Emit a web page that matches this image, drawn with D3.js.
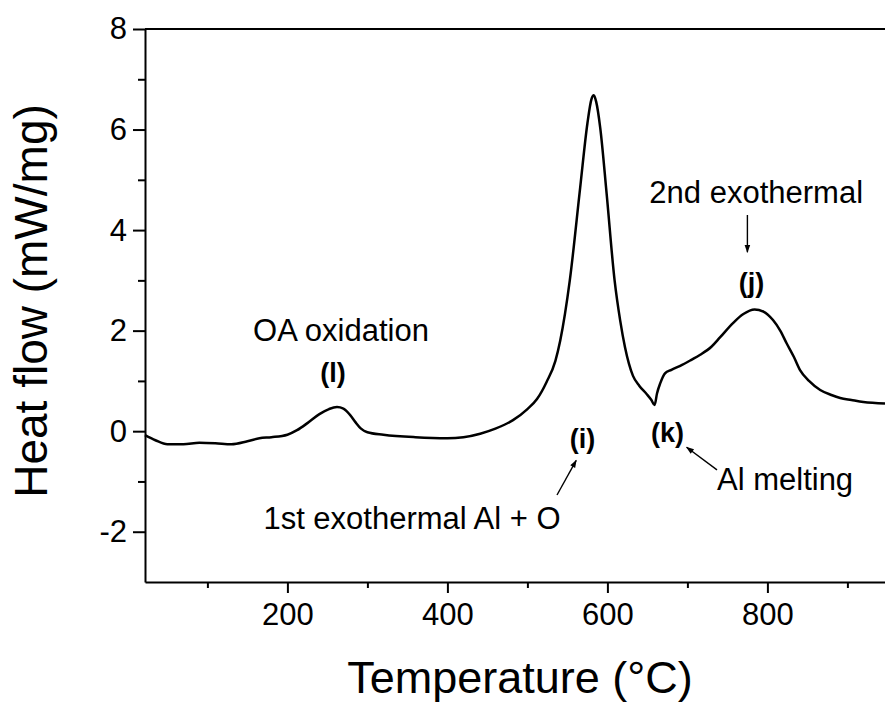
<!DOCTYPE html>
<html>
<head>
<meta charset="utf-8">
<script src="https://cdn.jsdelivr.net/npm/d3@7"></script>
<style>
  html, body { margin: 0; padding: 0; background: #fff; }
  svg { display: block; font-family: "Liberation Sans", Arial, sans-serif; }
  .axis path, .axis line { stroke: #000; stroke-width: 2; }
  .axis text { font-size: 31px; fill: #000; }
  .ann { font-size: 31px; fill: #000; }
  .lab { font-size: 27px; font-weight: bold; fill: #000; }
</style>
</head>
<body>
<svg id="chart" width="885" height="704"></svg>
<script>
/* DSC trace: heat flow against temperature, with the four marked events. */
const temps = [22, 35, 50, 70, 90, 110, 130, 150, 165, 180, 200, 212, 225, 240, 252, 262, 270, 278, 285, 292,
  300, 320, 360, 400, 420, 441, 460, 482, 500, 512, 524, 535, 541, 553, 566, 575, 580, 583, 586, 591,
  599, 609, 616, 622, 632, 640, 649, 655, 659, 662, 666, 672, 680, 691, 705, 716, 730, 741, 757, 770,
  784, 795, 807, 816, 824, 833, 841, 852, 866, 880, 891, 905, 920, 947];
const heatFlow = [-0.08, -0.18, -0.26, -0.26, -0.23, -0.24, -0.26, -0.2, -0.14, -0.12, -0.07, 0.02, 0.16, 0.34, 0.44, 0.48, 0.45, 0.33, 0.18, 0.05,
  -0.02, -0.07, -0.12, -0.14, -0.12, -0.05, 0.05, 0.22, 0.44, 0.64, 0.98, 1.4, 1.8, 3.0, 4.85, 6.12, 6.6, 6.68, 6.55, 6.04,
  4.73, 3.0, 2.2, 1.67, 1.1, 0.9, 0.74, 0.62, 0.52, 0.75, 0.95, 1.15, 1.22, 1.3, 1.42, 1.52, 1.68, 1.87, 2.15, 2.33,
  2.42, 2.38, 2.21, 2.0, 1.75, 1.48, 1.21, 1.0, 0.82, 0.72, 0.66, 0.62, 0.58, 0.55];

const xMajor = [200, 400, 600, 800];
const xMinor = [100, 300, 500, 700, 900];
const yMajor = [-2, 0, 2, 4, 6, 8];
const yMinor = [-1, 1, 3, 5, 7];

// annotations: [temperature, heat flow] anchors
const labels = [
  { t: "(l)", at: [257, 0.97] },
  { t: "(i)", at: [569, -0.33] },
  { t: "(k)", at: [675, -0.22] },
  { t: "(j)", at: [780, 2.76] },
];
const notes = [
  { t: "OA oxidation", at: [267, 1.8], anchor: "middle" },
  { t: "1st exothermal Al + O", at: [170, -1.94], anchor: "start" },
  { t: "Al melting", at: [737, -1.17], anchor: "start" },
  { t: "2nd exothermal", at: [786, 4.54], anchor: "middle" },
];
const arrows = [
  [[537, -1.27], [561, -0.58]],
  [[737, -0.77], [699, -0.32]],
  [[775, 4.3], [775, 3.56]],
];

const W = 885, H = 704;
const M = { t: 29, r: 0, b: 122, l: 145 };
const svg = d3.select("#chart");

const x = d3.scaleLinear().domain([22, 947]).range([M.l, W - M.r]);
const y = d3.scaleLinear().domain([-3, 8]).range([H - M.b, M.t]);

const defs = svg.append("defs");
defs.append("marker").attr("id", "ah").attr("viewBox", "0 0 10 10")
  .attr("refX", 9).attr("refY", 5).attr("markerWidth", 10).attr("markerHeight", 8)
  .attr("markerUnits", "userSpaceOnUse").attr("orient", "auto")
  .append("path").attr("d", "M0,1.5 L10,5 L0,8.5 Z").attr("fill", "#000");

// frame top
svg.append("line").attr("x1", M.l).attr("x2", W).attr("y1", y(8)).attr("y2", y(8))
  .attr("stroke", "#000").attr("stroke-width", 2);

const fmt = d => String(d);
const gx = svg.append("g").attr("class", "axis").attr("transform", `translate(0,${y(-3)})`);
gx.call(d3.axisBottom(x).tickValues(xMajor).tickFormat(fmt).tickSize(11).tickPadding(10).tickSizeOuter(0));
gx.append("g").call(d3.axisBottom(x).tickValues(xMinor).tickSize(6).tickFormat("").tickSizeOuter(0))
  .select(".domain").remove();

const gy = svg.append("g").attr("class", "axis").attr("transform", `translate(${M.l},0)`);
gy.call(d3.axisLeft(y).tickValues(yMajor).tickFormat(fmt).tickSize(12).tickPadding(6).tickSizeOuter(0));
gy.append("g").call(d3.axisLeft(y).tickValues(yMinor).tickSize(7).tickFormat("").tickSizeOuter(0))
  .select(".domain").remove();
gy.selectAll("text").attr("font-family", null).attr("font-size", null);
gx.selectAll("text").attr("font-family", null).attr("font-size", null);

// curve
const line = d3.line().x(d => x(d[0])).y(d => y(d[1])).curve(d3.curveMonotoneX);
svg.append("path").datum(temps.map((t, i) => [t, heatFlow[i]]))
  .attr("d", line).attr("fill", "none").attr("stroke", "#000").attr("stroke-width", 2.5)
  .attr("stroke-linejoin", "round");

// annotations
svg.selectAll("text.lab").data(labels).join("text").attr("class", "lab")
  .attr("x", d => x(d.at[0])).attr("y", d => y(d.at[1])).attr("text-anchor", "middle").text(d => d.t);
svg.selectAll("text.ann").data(notes).join("text").attr("class", "ann")
  .attr("x", d => x(d.at[0])).attr("y", d => y(d.at[1])).attr("text-anchor", d => d.anchor).text(d => d.t);
svg.selectAll("line.arr").data(arrows).join("line").attr("class", "arr")
  .attr("x1", d => x(d[0][0])).attr("y1", d => y(d[0][1]))
  .attr("x2", d => x(d[1][0])).attr("y2", d => y(d[1][1]))
  .attr("stroke", "#000").attr("stroke-width", 1.4).attr("marker-end", "url(#ah)");

// axis titles
svg.append("text").attr("x", (347 + 693) / 2).attr("y", 693).attr("text-anchor", "middle")
  .attr("font-size", 45).text("Temperature (°C)");
svg.append("text").attr("transform", "translate(47,301) rotate(-90)").attr("text-anchor", "middle")
  .attr("font-size", 46).text("Heat flow (mW/mg)");
</script>
</body>
</html>
